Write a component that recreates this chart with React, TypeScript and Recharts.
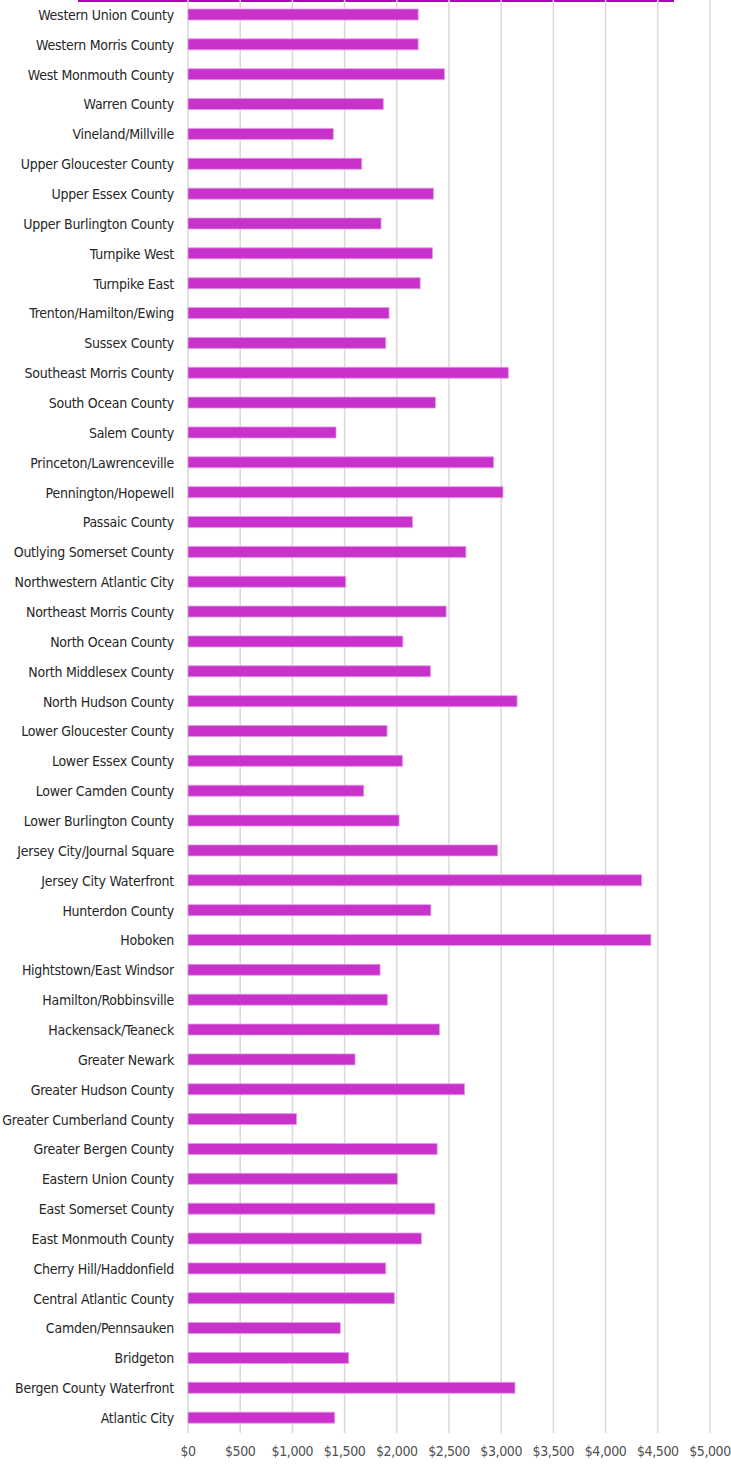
import { Bar, BarChart, CartesianGrid, XAxis, YAxis } from "recharts";

const regions = [
  "Western Union County",
  "Western Morris County",
  "West Monmouth County",
  "Warren County",
  "Vineland/Millville",
  "Upper Gloucester County",
  "Upper Essex County",
  "Upper Burlington County",
  "Turnpike West",
  "Turnpike East",
  "Trenton/Hamilton/Ewing",
  "Sussex County",
  "Southeast Morris County",
  "South Ocean County",
  "Salem County",
  "Princeton/Lawrenceville",
  "Pennington/Hopewell",
  "Passaic County",
  "Outlying Somerset County",
  "Northwestern Atlantic City",
  "Northeast Morris County",
  "North Ocean County",
  "North Middlesex County",
  "North Hudson County",
  "Lower Gloucester County",
  "Lower Essex County",
  "Lower Camden County",
  "Lower Burlington County",
  "Jersey City/Journal Square",
  "Jersey City Waterfront",
  "Hunterdon County",
  "Hoboken",
  "Hightstown/East Windsor",
  "Hamilton/Robbinsville",
  "Hackensack/Teaneck",
  "Greater Newark",
  "Greater Hudson County",
  "Greater Cumberland County",
  "Greater Bergen County",
  "Eastern Union County",
  "East Somerset County",
  "East Monmouth County",
  "Cherry Hill/Haddonfield",
  "Central Atlantic County",
  "Camden/Pennsauken",
  "Bridgeton",
  "Bergen County Waterfront",
  "Atlantic City"
];

const rents = [
  2205, 2205, 2457, 1871, 1392, 1664, 2351, 1849, 2342, 2224, 1926, 1894,
  3068, 2370, 1418, 2927, 3017, 2150, 2662, 1511, 2473, 2058, 2323, 3152,
  1907, 2054, 1683, 2022, 2966, 4345, 2326, 4434, 1840, 1910, 2409, 1600,
  2649, 1040, 2387, 2006, 2365, 2236, 1894, 1977, 1459, 1539, 3132, 1405
];

const xTicks = [0, 500, 1000, 1500, 2000, 2500, 3000, 3500, 4000, 4500, 5000];

const data = regions.map((region, i) => ({ region, rent: rents[i] }));

const font = "'DejaVu Sans Condensed', 'Liberation Sans Narrow', sans-serif";

export default function App() {
  return (
    <div style={{ position: "absolute", top: 0, left: 0, width: 731, height: 1470, background: "#fff" }}>
      <div
        style={{
          position: "absolute",
          top: 0,
          left: 78,
          width: 596,
          height: 2,
          background: "#b400b4"
        }}
      />
      <BarChart
        width={731}
        height={1470}
        data={data}
        layout="vertical"
        barSize={11}
        margin={{ top: 0, right: 21, left: 0, bottom: 0 }}
      >
        <CartesianGrid horizontal={false} stroke="#d9d9d9" strokeWidth={1.5} />
        <XAxis
          type="number"
          domain={[0, 5000]}
          ticks={xTicks}
          interval={0}
          height={37}
          axisLine={false}
          tickLine={false}
          tickMargin={7}
          tick={{ fill: "#505050", fontSize: 14, fontFamily: font, letterSpacing: -0.4 }}
          tickFormatter={(v: number) => "$" + v.toLocaleString("en-US")}
        />
        <YAxis
          type="category"
          dataKey="region"
          width={188}
          interval={0}
          axisLine={false}
          tickLine={false}
          tickMargin={8}
          tick={{ fill: "#262626", fontSize: 14, fontFamily: font, letterSpacing: -0.25 }}
        />
        <Bar dataKey="rent" fill="#c832cb" stroke="#e39be6" strokeWidth={0.8} isAnimationActive={false} />
      </BarChart>
    </div>
  );
}
